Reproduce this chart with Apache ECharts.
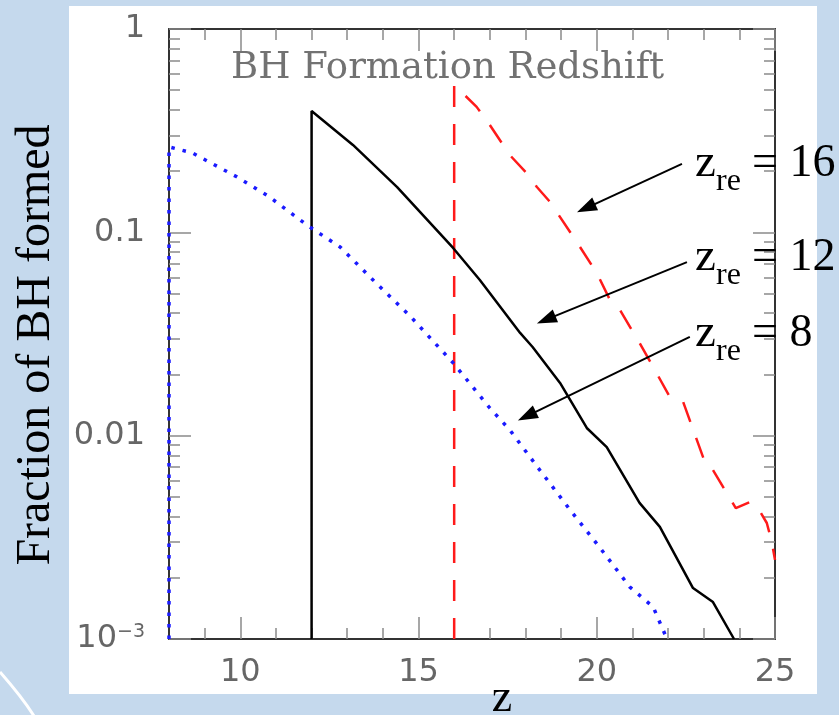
<!DOCTYPE html>
<html>
<head>
<meta charset="utf-8">
<script src="https://cdn.jsdelivr.net/npm/echarts@6/dist/echarts.min.js"></script>
<style>
  html, body { margin: 0; padding: 0; background: #c5d9ed; }
  #chart { width: 839px; height: 715px; }
</style>
</head>
<body>
<div id="chart"></div>
<script>
// ---- data: [z, fraction] ----
const zre16 = [
  [16, 0.001], [16, 0.531], [16.63, 0.414], [17.0, 0.337], [17.56, 0.240], [18.13, 0.1875],
  [18.32, 0.167], [18.69, 0.141], [19.53, 0.0847], [20.0, 0.0631], [20.37, 0.0465],
  [20.65, 0.0415], [21.2, 0.0286], [21.58, 0.0218], [22.05, 0.0155], [22.42, 0.0147],
  [23.08, 0.00702], [23.26, 0.00678], [23.9, 0.0044], [24.3, 0.00472], [24.5, 0.00447],
  [24.77, 0.00372], [24.91, 0.0030], [25, 0.00245]
];
const zre12 = [
  [12, 0.001], [12, 0.395], [13.16, 0.269], [14.4, 0.167], [15.97, 0.0838], [16.72, 0.0583],
  [17.85, 0.032], [18.2, 0.0273], [18.97, 0.01816], [19.72, 0.01091], [20.28, 0.00879],
  [21.2, 0.00467], [21.77, 0.00356], [22.7, 0.00178], [23.26, 0.00152], [23.85, 0.001]
];
const zre8 = [
  [8, 0.001], [8, 0.263], [8.65, 0.246], [9.9, 0.1875], [10.78, 0.151], [11.9, 0.1076],
  [12.8, 0.0847], [13.78, 0.057], [14.76, 0.0388], [15.97, 0.0228], [17.0, 0.01368],
  [17.56, 0.01067], [18.4, 0.00678], [19.25, 0.00432], [20.09, 0.00281], [20.93, 0.0018],
  [21.58, 0.00144], [21.97, 0.001]
];
// tick values / labels
const xMajorTicks = [10, 15, 20, 25];
const xMinorTicks = [9, 11, 12, 13, 14, 16, 17, 18, 19, 21, 22, 23, 24];
const yMajorTicks = [0.001, 0.01, 0.1, 1];
const yMajorLabels = ['10^-3', '0.01', '0.1', '1'];
const yMinorMantissas = [2, 3, 4, 5, 6, 7, 8, 9];
const yDecades = [0.001, 0.01, 0.1];
// annotation arrows: [start z, start fraction, head z, head fraction]
const arrows = [
  [22.39, 0.217, 19.70, 0.1315],
  [22.53, 0.0714, 18.58, 0.0372],
  [22.61, 0.0306, 18.04, 0.01247]
];
const annoLabels = ['16', '12', '8'];

// ---- build ----
const L = 169, T = 29, R = 775, B = 639;
const yMajorLog = yMajorTicks.map(v => Math.log10(v));
const yMinorLog = [];
yDecades.forEach(d => yMinorMantissas.forEach(m => yMinorLog.push(Math.log10(m * d))));

const tickColor = '#8a8a8a';
const frameColor = '#333';
const labelFont = 'DejaVu Sans';

function xAx(pos, ticks, len, showLine, showLabel) {
  return {
    type: 'value', min: 8, max: 25, position: pos,
    axisLine: { show: showLine, onZero: false, lineStyle: { color: frameColor, width: 2 } },
    axisTick: { show: true, inside: true, length: len, customValues: ticks,
      lineStyle: { color: tickColor, width: 1.5 } },
    axisLabel: { show: showLabel, customValues: xMajorTicks, fontSize: 32, fontFamily: labelFont,
      color: '#666', margin: 18 },
    splitLine: { show: false }
  };
}
function yAx(pos, ticks, len, showLine, showLabel) {
  return {
    type: 'value', min: -3, max: 0, position: pos,
    axisLine: { show: showLine, onZero: false, lineStyle: { color: frameColor, width: 2 } },
    axisTick: { show: true, inside: true, length: len, customValues: ticks,
      lineStyle: { color: tickColor, width: 1.5 } },
    axisLabel: { show: showLabel, customValues: yMajorLog, fontSize: 32, fontFamily: labelFont,
      color: '#666', margin: 24,
      formatter: function (v) {
        const i = yMajorLog.findIndex(t => Math.abs(t - v) < 1e-6);
        const s = i >= 0 ? yMajorLabels[i] : '';
        if (s.indexOf('^') >= 0) {
          const p = s.split('^');
          return '{b|' + p[0] + '}{s|' + p[1].replace('-', '\u2212') + '}';
        }
        return s;
      },
      rich: {
        b: { fontSize: 32, fontFamily: labelFont, color: '#666', lineHeight: 32, verticalAlign: 'top' },
        s: { fontSize: 19, fontFamily: labelFont, color: '#666', lineHeight: 32, verticalAlign: 'top', padding: [0, 0, 10, 0] }
      }
    },
    splitLine: { show: false }
  };
}

const serif = 'Liberation Serif';
const graphics = [
  { type: 'rect', z: -10, shape: { x: 69, y: 6, width: 748, height: 688 }, style: { fill: '#ffffff' } },
  { type: 'bezierCurve', z: -10, shape: { x1: 0, y1: 672, cpx1: 14, cpy1: 688, cpx2: 24, cpy2: 700, x2: 34, y2: 716 },
    style: { stroke: '#ffffff', lineWidth: 3, fill: null } },
  { type: 'text', x: 231, y: 68, style: { text: 'BH Formation Redshift', font: '37px "DejaVu Serif"', fill: '#727272',
      textAlign: 'left', textVerticalAlign: 'middle' } },
  { type: 'text', x: 36, y: 345, rotation: Math.PI / 2, style: { text: 'Fraction of BH formed', font: '48px "' + serif + '"',
      fill: '#000', textAlign: 'center', textVerticalAlign: 'middle' } },
  { type: 'text', x: 502, y: 699, style: { text: 'z', font: '46px "' + serif + '"', fill: '#000',
      textAlign: 'center', textVerticalAlign: 'middle' } }
];
const rowBase = [178, 272, 348];
annoLabels.forEach((lab, i) => {
  const b = rowBase[i];
  graphics.push({ type: 'text', x: 695, y: b - 14, z: 20, style: { text: 'z', font: '47px "' + serif + '"', fill: '#000', textAlign: 'left', textVerticalAlign: 'middle' } });
  graphics.push({ type: 'text', x: 716, y: b + 14 - 10, z: 20, style: { text: 're', font: '32px "' + serif + '"', fill: '#000', textAlign: 'left', textVerticalAlign: 'middle' } });
  graphics.push({ type: 'text', x: 752, y: b - 14, z: 20, style: { text: '= ' + lab, font: '46px "' + serif + '"', fill: '#000', textAlign: 'left', textVerticalAlign: 'middle' } });
});

const option = {
  backgroundColor: '#c5d9ed',
  animation: false,
  grid: { left: L, top: T, width: R - L, height: B - T, containLabel: false },
  xAxis: [
    xAx('bottom', xMajorTicks, 22, true, true),
    xAx('bottom', xMinorTicks, 11, false, false),
    xAx('top', xMajorTicks, 22, true, false),
    xAx('top', xMinorTicks, 11, false, false)
  ],
  yAxis: [
    { type: 'log', logBase: 10, min: 0.001, max: 1, show: false },
    yAx('left', yMajorLog, 22, true, true),
    yAx('left', yMinorLog, 11, false, false),
    yAx('right', yMajorLog, 22, true, false),
    yAx('right', yMinorLog, 11, false, false)
  ],
  graphic: graphics,
  series: [
    { type: 'line', name: 'zre16', data: zre16, xAxisIndex: 0, yAxisIndex: 0, showSymbol: false, clip: false,
      lineStyle: { color: '#ff1a1a', width: 2.5, type: [21, 17] }, z: 3 },
    { type: 'line', name: 'zre12', data: zre12, xAxisIndex: 0, yAxisIndex: 0, showSymbol: false, clip: false,
      lineStyle: { color: '#000', width: 2.5 }, z: 3,
      markLine: {
        silent: true, symbol: ['none', 'triangle'], symbolSize: [14, 20], precision: 5,
        label: { show: false },
        lineStyle: { color: '#000', width: 2, type: 'solid' },
        itemStyle: { color: '#000' },
        emphasis: { disabled: true },
        data: arrows.map(a => [{ coord: [a[0], a[1]] }, { coord: [a[2], a[3]] }])
      } },
    { type: 'line', name: 'zre8', data: zre8, xAxisIndex: 0, yAxisIndex: 0, showSymbol: false, clip: false,
      lineStyle: { color: '#1a1aff', width: 3.5, type: [3.5, 8] }, z: 3 }
  ]
};
const chart = echarts.init(document.getElementById('chart'), null, { renderer: 'canvas' });
chart.setOption(option);
</script>
</body>
</html>
